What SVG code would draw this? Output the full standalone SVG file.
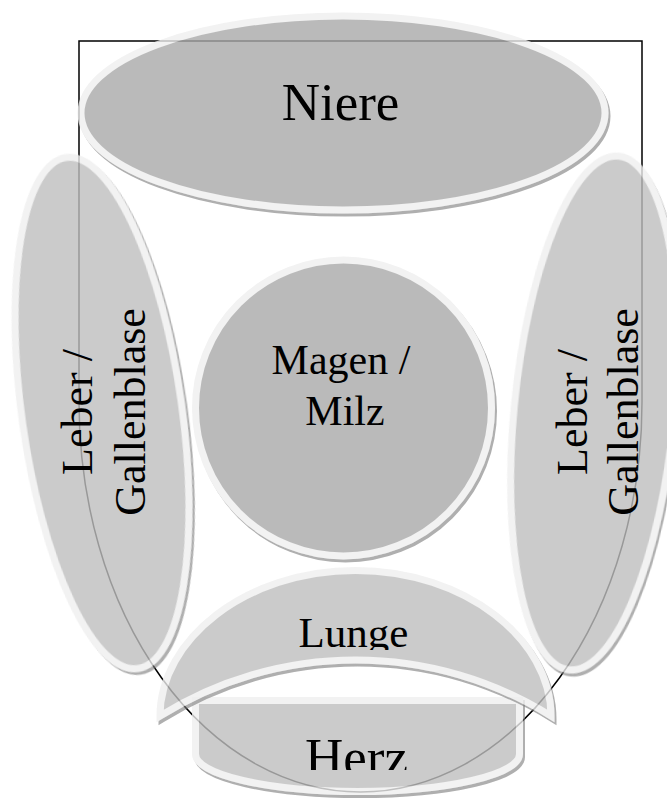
<svg xmlns="http://www.w3.org/2000/svg" width="667" height="805" viewBox="0 0 667 805">
  <defs>
    <filter id="shadow" x="-10%" y="-10%" width="120%" height="120%">
      <feDropShadow dx="2" dy="3" stdDeviation="0.7" flood-color="#7a7a7a" flood-opacity="0.75"/>
    </filter>
    <clipPath id="clip-lunge"><rect x="150" y="560" width="420" height="90"/></clipPath>
    <clipPath id="clip-herz"><rect x="190" y="700" width="340" height="70"/></clipPath>
  </defs>
  <style>
    .body { opacity: 0.8; }
    .body > * { filter: url(#shadow); stroke: #efefef; stroke-width: 7; }
    .dark { fill: #aaaaaa; }
    .light { fill: #bfbfbf; }
    .label { font-family: "Liberation Serif", "DejaVu Serif", serif; fill: #000; text-anchor: middle; }
    .frame { fill: none; stroke: #000; stroke-width: 1.5; }
  </style>

  <!-- background outline: box with a rounded bottom -->
  <g id="connectors">
    <path class="frame" d="M79,41 H642 V402 A281.5,390 0 0 1 79,402 Z"/>
  </g>

  <g id="leber-links">
    <g class="body">
      <ellipse class="light" cx="102" cy="413" rx="80" ry="258" transform="rotate(-8 102 413)"/>
    </g>
    <text class="label" font-size="44" transform="translate(92,412) rotate(-90)">Leber /</text>
    <text class="label" font-size="44" transform="translate(145,412) rotate(-90)">Gallenblase</text>
  </g>

  <g id="leber-rechts">
    <g class="body">
      <ellipse class="light" cx="594" cy="413" rx="80" ry="258" transform="rotate(5.5 594 413)"/>
    </g>
    <text class="label" font-size="44" transform="translate(587,412) rotate(-90)">Leber /</text>
    <text class="label" font-size="44" transform="translate(638,412) rotate(-90)">Gallenblase</text>
  </g>

  <g id="niere">
    <g class="body">
      <ellipse class="dark" cx="343" cy="113" rx="262" ry="97"/>
    </g>
    <text class="label" font-size="53" x="340.5" y="120">Niere</text>
  </g>

  <g id="magen-milz">
    <g class="body">
      <circle class="dark" cx="343.5" cy="408" r="148"/>
    </g>
    <text class="label" font-size="42" x="341" y="374">Magen /</text>
    <text class="label" font-size="42" x="345" y="425">Milz</text>
  </g>

  <g id="herz">
    <g class="body">
      <path class="light" d="M195.5,700.5 H519.5 V754 A162,37.5 0 0 1 195.5,754 Z"/>
    </g>
    <text class="label" font-size="53" x="356.5" y="775" clip-path="url(#clip-herz)">Herz</text>
  </g>

  <g id="lunge">
    <g class="body">
      <path class="light" d="M160,716 C160,640 245,570.5 355.5,570.5 C466,570.5 551,640 551,716 A369,369 0 0 0 160,716 Z"/>
    </g>
    <text class="label" font-size="43" x="353.5" y="647" clip-path="url(#clip-lunge)">Lunge</text>
  </g>
</svg>
